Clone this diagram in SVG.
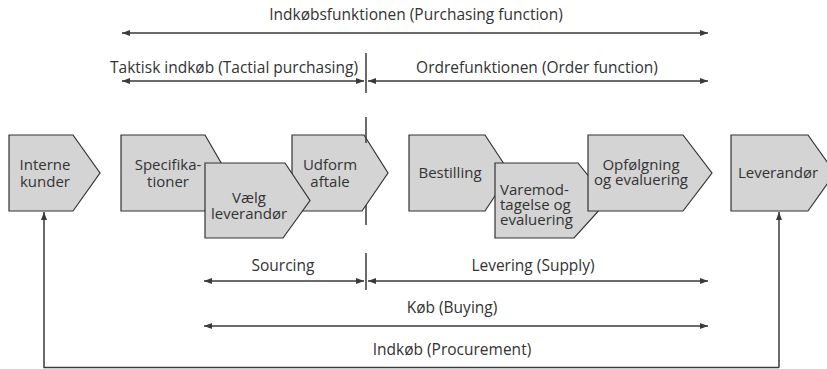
<svg xmlns="http://www.w3.org/2000/svg" width="827" height="369" viewBox="0 0 827 369">
<defs>
<marker id="ah" viewBox="0 0 8 6" refX="8" refY="3" markerWidth="8" markerHeight="6" markerUnits="userSpaceOnUse" orient="auto-start-reverse">
<path d="M0,0 L8,3 L0,6 Z" fill="#3a3a3a"/>
</marker>
</defs>
<style>
.shape{fill:#d4d4d4;stroke:#333;stroke-width:1.2;stroke-linejoin:miter}
.t{font-family:"Open Sans","Liberation Sans",sans-serif;font-size:15px;fill:#333}
.lb{font-size:15.5px}
.c{text-anchor:middle}
.ln{stroke:#3a3a3a;stroke-width:1.5;fill:none}
.arr{stroke:#3a3a3a;stroke-width:1.5;fill:none;marker-start:url(#ah);marker-end:url(#ah)}
.one{stroke:#3a3a3a;stroke-width:1.5;fill:none;marker-end:url(#ah)}
</style>
<rect width="827" height="369" fill="#fff"/>

<g id="labels">
<text class="t lb c" x="416" y="20">Indkøbsfunktionen (Purchasing function)</text>
<text class="t lb" x="358" y="73" text-anchor="end">Taktisk indkøb (Tactial purchasing)</text>
<text class="t lb c" x="537" y="73">Ordrefunktionen (Order function)</text>
<text class="t lb c" x="283" y="271">Sourcing</text>
<text class="t lb c" x="533" y="271">Levering (Supply)</text>
<text class="t lb c" x="452" y="313">Køb (Buying)</text>
<text class="t lb c" x="452" y="355">Indkøb (Procurement)</text>
</g>

<g id="interne-kunder">
<polygon class="shape" points="9,135 73,135 100,173 73,211 9,211"/>
<text class="t c" x="45" y="170">Interne</text>
<text class="t c" x="45" y="187">kunder</text>
</g>
<g id="specifikationer">
<polygon class="shape" points="121,135 205,135 227,173 205,211 121,211"/>
<text class="t c" x="168" y="170">Specifika-</text>
<text class="t c" x="168" y="187">tioner</text>
</g>
<g id="udform-aftale">
<polygon class="shape" points="292,135 364,135 388,173 362,211 292,211"/>
<text class="t c" x="330" y="170">Udform</text>
<text class="t c" x="330" y="187">aftale</text>
</g>
<g id="vaelg-leverandoer">
<polygon class="shape" points="205,163 285,163 310,200.5 283,238 205,238"/>
<text class="t c" x="249" y="203">Vælg</text>
<text class="t c" x="249" y="219">leverandør</text>
</g>
<g id="bestilling">
<polygon class="shape" points="409,135 485,135 510,173 485,211 409,211"/>
<text class="t c" x="450" y="178">Bestilling</text>
</g>
<g id="varemodtagelse">
<polygon class="shape" points="495,163 578,163 608,200.5 574,238 495,238"/>
<text class="t" x="500" y="195">Varemod-</text>
<text class="t" x="500" y="210">tagelse og</text>
<text class="t" x="500" y="225">evaluering</text>
</g>
<g id="opfoelgning">
<polygon class="shape" points="588,135 683,135 712,173 683,211 588,211"/>
<text class="t c" x="641" y="170">Opfølgning</text>
<text class="t c" x="641" y="185">og evaluering</text>
</g>
<g id="leverandoer">
<polygon class="shape" points="731,135 808,135 835,173 808,211 731,211"/>
<text class="t c" x="778" y="178">Leverandør</text>
</g>

<g id="connectors">
<line class="arr" x1="122" y1="33" x2="708" y2="33"/>
<line class="arr" x1="122" y1="81" x2="364" y2="81"/>
<line class="arr" x1="368" y1="81" x2="708" y2="81"/>
<line class="ln" x1="366" y1="53" x2="366" y2="93"/>
<line class="ln" x1="366" y1="117" x2="366" y2="143"/>
<line class="ln" x1="366" y1="205" x2="366" y2="225"/>
<line class="arr" x1="204" y1="281" x2="364" y2="281"/>
<line class="arr" x1="368" y1="281" x2="708" y2="281"/>
<line class="ln" x1="366" y1="253" x2="366" y2="290"/>
<line class="arr" x1="204" y1="326" x2="708" y2="326"/>
<polyline class="one" points="779,367.5 44,367.5 44,212"/>
<line class="one" x1="779" y1="367.5" x2="779" y2="212"/>
</g>
</svg>
